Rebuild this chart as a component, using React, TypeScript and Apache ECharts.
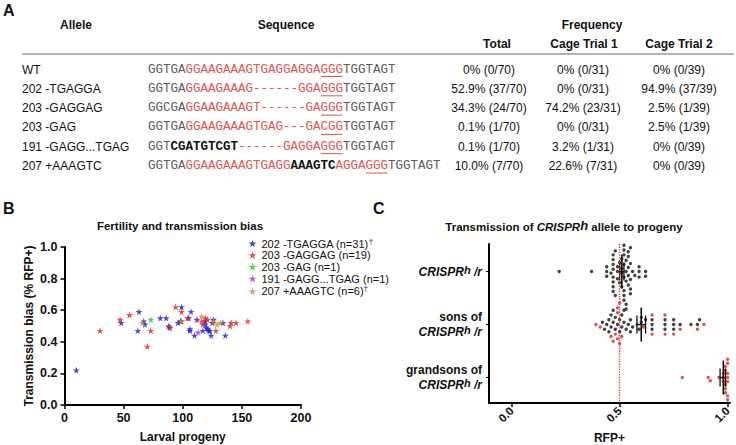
import React, { useEffect, useRef } from "react";
import * as echarts from "echarts";

// ---------- Panel A data ----------
const tableHeaders = ["Allele", "Sequence", "Frequency", "Total", "Cage Trial 1", "Cage Trial 2"];
const alleles = ["WT", "202 -TGAGGA", "203 -GAGGAG", "203 -GAG", "191 -GAGG...TGAG", "207 +AAAGTC"];
// segment style: g = grey, r = red, ru = red underlined (PAM), b = bold black
const sequences: [string, string][][] = [
  [["g", "GGTGA"], ["r", "GGAAGAAAGTGAGGAGGA"], ["ru", "GGG"], ["g", "TGGTAGT"]],
  [["g", "GGTGA"], ["r", "GGAAGAAAG------GGA"], ["ru", "GGG"], ["g", "TGGTAGT"]],
  [["g", "GGCGA"], ["r", "GGAAGAAAGT------GA"], ["ru", "GGG"], ["g", "TGGTAGT"]],
  [["g", "GGTGA"], ["r", "GGAAGAAAGTGAG---GA"], ["ru", "CGG"], ["g", "TGGTAGT"]],
  [["g", "GGT"], ["b", "CGATGTCGT"], ["r", "------GAGGA"], ["ru", "GGG"], ["g", "TGGTAGT"]],
  [["g", "GGTGA"], ["r", "GGAAGAAAGTGAGG"], ["b", "AAAGTC"], ["r", "AGGA"], ["ru", "GGG"], ["g", "TGGTAGT"]],
];
const freqTotal = ["0% (0/70)", "52.9% (37/70)", "34.3% (24/70)", "0.1% (1/70)", "0.1% (1/70)", "10.0% (7/70)"];
const freqTrial1 = ["0% (0/31)", "0% (0/31)", "74.2% (23/31)", "0% (0/31)", "3.2% (1/31)", "22.6% (7/31)"];
const freqTrial2 = ["0% (0/39)", "94.9% (37/39)", "2.5% (1/39)", "2.5% (1/39)", "0% (0/39)", "0% (0/39)"];

// ---------- Panel B data ----------
const seriesNames = ["202 -TGAGGA (n=31)", "203 -GAGGAG (n=19)", "203 -GAG (n=1)", "191 -GAGG...TGAG (n=1)", "207 +AAAGTC (n=6)"];
const seriesDagger = [true, false, false, false, true];
const seriesColors = ["#1c1cd6", "#e52222", "#2cbf2c", "#a236e0", "#d2862f"];
const tgagga: number[][] = [
  [10, 0.22], [48, 0.52], [62, 0.47], [63, 0.59], [67, 0.53], [68, 0.51], [81, 0.55], [86, 0.55], [88, 0.5], [89, 0.49],
  [96, 0.52], [98, 0.53], [99, 0.62], [105, 0.55], [106, 0.48], [106, 0.47], [107, 0.59], [110, 0.44], [112, 0.54], [117, 0.47],
  [119, 0.51], [120, 0.49], [121, 0.48], [122, 0.47], [123, 0.47], [124, 0.44], [125, 0.52], [126, 0.54], [134, 0.52], [136, 0.44],
  [119, 0.53],
];
const gaggag: number[][] = [
  [30, 0.47], [47, 0.54], [55, 0.57], [70, 0.37], [73, 0.47], [89, 0.49], [94, 0.62], [99, 0.59], [99, 0.53], [104, 0.55],
  [116, 0.53], [117, 0.51], [119, 0.55], [121, 0.54], [128, 0.47], [140, 0.5], [141, 0.52], [145, 0.52], [155, 0.53],
];
const gag: number[][] = [[73, 0.54]];
const gaggTgag: number[][] = [[113, 0.46]];
const aaagtc: number[][] = [[66, 0.52], [99, 0.53], [116, 0.56], [126, 0.53], [129, 0.51], [132, 0.52]];

// ---------- Panel C data ----------
const rowLabels = ["CRISPRh/r", "sons of CRISPRh/r", "grandsons of CRISPRh/r"];
const sonsBlack = [0.42, 0.43, 0.44, 0.45, 0.45, 0.46, 0.46, 0.47, 0.47, 0.48, 0.48, 0.49, 0.5, 0.5, 0.51, 0.51, 0.52, 0.52, 0.53, 0.54,
  0.55, 0.55, 0.56, 0.59, 0.6, 0.6, 0.62, 0.65, 0.65, 0.65, 0.71, 0.71, 0.71, 0.75, 0.75, 0.75, 0.78, 0.83, 0.86, 0.87];
const sonsRed = [0.39, 0.41, 0.46, 0.47, 0.48, 0.49, 0.49, 0.49, 0.5, 0.5, 0.51, 0.58, 0.61, 0.65, 0.65, 0.71, 0.71, 0.75, 0.78, 0.86, 0.89];
const grandsonsRed = [0.79, 0.91, 0.92, 0.96, 0.98, 0.98, 0.98, 0.99, 0.99, 0.99, 0.99, 0.99,
  1.0, 1.0, 1.0, 1.0, 1.0, 1.0, 1.0];
const groupMean = [0.51, 0.6, 0.98];
const groupLow = [0.5, 0.58, 0.965];
const groupHigh = [0.52, 0.62, 0.99];
const xTicksC = [0, 0.5, 1.0];

const FONT = '"Liberation Sans", Arial, Helvetica, sans-serif';
const MONO = '"Liberation Mono", "Courier New", monospace';
const STAR = "path://M50 0 L61.17 34.63 L97.55 34.55 L68.07 55.87 L79.39 90.45 L50 69 L20.61 90.45 L31.93 55.87 L2.45 34.55 L38.83 34.63 Z";

// layout constants
const SEQ_X = 148;
const CHAR_W = 7.5;
const ROW_Y0 = 69.5;
const ROW_DY = 19.3;
const PX_X_C = 216; // px per unit on panel C x axis
const PX_Y_C = 53.3; // px per row on panel C

function buildTable(): any[] {
  const els: any[] = [];
  const txt = (x: number, y: number, text: string, font: string, fill = "#111", align = "left") => ({
    type: "text",
    silent: true,
    style: { x, y, text, font, fill, textAlign: align, textVerticalAlign: "middle" },
  });
  const hb = `bold 12px ${FONT}`;
  const nf = `12px ${FONT}`;
  els.push(txt(3, 10, "A", `bold 16px ${FONT}`));
  els.push(txt(76, 25, tableHeaders[0], hb, "#111", "center"));
  els.push(txt(286, 25, tableHeaders[1], hb, "#111", "center"));
  els.push(txt(592, 25, tableHeaders[2], hb, "#111", "center"));
  els.push(txt(497, 44, tableHeaders[3], hb, "#111", "center"));
  els.push(txt(584, 44, tableHeaders[4], hb, "#111", "center"));
  els.push(txt(679, 44, tableHeaders[5], hb, "#111", "center"));
  els.push({ type: "line", silent: true, shape: { x1: 22, y1: 54, x2: 734, y2: 54 }, style: { stroke: "#9a9a9a", lineWidth: 1.5 } });
  alleles.forEach((a, i) => {
    const y = ROW_Y0 + i * ROW_DY;
    els.push(txt(22, y, a, nf));
    let off = 0;
    sequences[i].forEach(([st, s]) => {
      const x = SEQ_X + off * CHAR_W;
      const isBold = st === "b";
      const color = st === "g" ? "#5c5c5c" : st === "b" ? "#111" : "#e15454";
      els.push(txt(x, y, s, `${isBold ? "bold " : ""}12.5px ${MONO}`, color));
      if (st === "ru") {
        els.push({
          type: "line",
          silent: true,
          shape: { x1: x + 0.5, y1: y + 7, x2: x + s.length * CHAR_W - 0.5, y2: y + 7 },
          style: { stroke: "#e15454", lineWidth: 1 },
        });
      }
      off += s.length;
    });
    els.push(txt(489, y, freqTotal[i], nf, "#111", "center"));
    els.push(txt(583, y, freqTrial1[i], nf, "#111", "center"));
    els.push(txt(679, y, freqTrial2[i], nf, "#111", "center"));
  });
  // panel labels and titles
  els.push(txt(3, 208, "B", `bold 16px ${FONT}`));
  els.push(txt(373, 208, "C", `bold 16px ${FONT}`));
  els.push(txt(180, 226, "Fertility and transmission bias", `bold 11.5px ${FONT}`, "#111", "center"));
  els.push({
    type: "text",
    silent: true,
    style: {
      x: 564,
      y: 227,
      text: "{t|Transmission of }{i|CRISPR}{h|h}{t| allele to progeny}",
      textAlign: "center",
      textVerticalAlign: "middle",
      rich: {
        t: { font: `bold 11.5px ${FONT}`, fill: "#111", lineHeight: 16 },
        i: { font: `italic bold 11.5px ${FONT}`, fill: "#111", lineHeight: 16 },
        h: { font: `italic bold 13px ${FONT}`, fill: "#111", lineHeight: 10, verticalAlign: "top" },
      },
    },
  });
  return els;
}

// simple beeswarm placement: offsets perpendicular to value axis (layout only)
function swarm(vals: number[], colors: string[], row: number, D: number) {
  const order = vals.map((_, i) => i).sort((a, b) => vals[a] - vals[b]);
  const placed: { x: number; y: number }[] = [];
  const out: { value: number[]; color: string }[] = [];
  for (const i of order) {
    const x = vals[i] * PX_X_C;
    let k = 0;
    let y = 0;
    for (;;) {
      const c = k === 0 ? 0 : (k % 2 === 1 ? 1 : -1) * Math.ceil(k / 2) * 0.8;
      if (placed.every((p) => (p.x - x) ** 2 + (p.y - c) ** 2 >= D * D)) {
        y = c;
        break;
      }
      k++;
    }
    placed.push({ x, y });
    out.push({ value: [vals[i], row + y / PX_Y_C], color: colors[i] });
  }
  return out;
}

export default function App() {
  const ref = useRef<HTMLDivElement>(null);
  useEffect(() => {
    if (!ref.current) return;
    const chart = echarts.init(ref.current, null, { renderer: "svg" });

    const seriesB = [tgagga, gaggag, gag, gaggTgag, aaagtc];
    const parentVals = seriesB.flat().map((d) => d[1]);
    const rowsC = [
      swarm(parentVals, parentVals.map(() => "#111"), 0, 4.4),
      swarm([...sonsBlack, ...sonsRed], [...sonsBlack.map(() => "#111"), ...sonsRed.map(() => "#e02424")], 1, 4.8),
      swarm(grandsonsRed, grandsonsRed.map(() => "#e02424"), 2, 3.6),
    ].flat();

    const axisLineStyle = { color: "#000", width: 2 };
    const boldLabel = { fontWeight: "bold", fontSize: 12.5, color: "#111", fontFamily: FONT };

    const option: any = {
      animation: false,
      textStyle: { fontFamily: FONT },
      graphic: buildTable(),
      legend: {
        data: seriesNames,
        orient: "vertical",
        left: 248.5,
        top: 237,
        itemWidth: 8,
        itemHeight: 8,
        itemGap: 0.7,
        icon: STAR,
        padding: 0,
        selectedMode: false,
        formatter: (name: string) => {
          const i = seriesNames.indexOf(name);
          return seriesDagger[i] ? `{n|${name}}{s|†}` : `{n|${name}}`;
        },
        textStyle: {
          color: "#111",
          rich: {
            n: { fontSize: 11, lineHeight: 13, color: "#111", fontFamily: FONT },
            s: { fontSize: 8, lineHeight: 8, verticalAlign: "top", color: "#111", fontFamily: FONT },
          },
        },
      },
      grid: [
        { left: 64.5, top: 247, width: 236.5, height: 158 },
        { left: 489, top: 244, width: 240.8, height: 160 },
      ],
      xAxis: [
        {
          gridIndex: 0,
          type: "value",
          min: 0,
          max: 200,
          interval: 50,
          splitLine: { show: false },
          axisLine: { lineStyle: axisLineStyle },
          axisTick: { length: 4, lineStyle: { color: "#000", width: 1.5 } },
          axisLabel: { ...boldLabel, margin: 6 },
          name: "Larval progeny",
          nameLocation: "middle",
          nameGap: 26,
          nameTextStyle: { fontWeight: "bold", fontSize: 12, color: "#111" },
        },
        {
          gridIndex: 1,
          type: "value",
          min: -0.105,
          max: 1.01,
          splitLine: { show: false },
          axisLine: { onZero: false, lineStyle: axisLineStyle },
          axisTick: { length: 4, customValues: xTicksC, lineStyle: { color: "#000", width: 1.5 } },
          axisLabel: { ...boldLabel, fontSize: 11.5, rotate: 45, margin: 6, customValues: xTicksC, formatter: (v: number) => v.toFixed(1) },
          name: "RFP+",
          nameLocation: "middle",
          nameGap: 29,
          nameTextStyle: { fontWeight: "bold", fontSize: 12, color: "#111" },
        },
      ],
      yAxis: [
        {
          gridIndex: 0,
          type: "value",
          min: 0,
          max: 1,
          interval: 0.2,
          splitLine: { show: false },
          axisLine: { show: true, lineStyle: axisLineStyle },
          axisTick: { show: true, length: 4, lineStyle: { color: "#000", width: 1.5 } },
          axisLabel: { ...boldLabel, margin: 7, formatter: (v: number) => v.toFixed(1) },
          name: "Transmission bias (% RFP+)",
          nameLocation: "middle",
          nameGap: 30,
          nameTextStyle: { fontWeight: "bold", fontSize: 12, color: "#111" },
        },
        {
          gridIndex: 1,
          type: "value",
          inverse: true,
          min: -0.52,
          max: 2.48,
          splitLine: { show: false },
          axisLine: { show: true, onZero: false, lineStyle: axisLineStyle },
          axisTick: { show: true, length: 3, customValues: [0, 1, 2], lineStyle: { color: "#000", width: 1 } },
          axisLabel: {
            margin: 7,
            customValues: [0, 1, 2],
            formatter: (v: number) => {
              const r = Math.round(v);
              const base = "{i|CRISPR}{h|h}{i| /r}";
              if (r === 0) return base;
              return `{b|${rowLabels[r].split(" CRISPR")[0]}}\n${base}`;
            },
            rich: {
              b: { fontWeight: "bold", fontSize: 12, lineHeight: 15, color: "#111", fontFamily: FONT },
              i: { fontWeight: "bold", fontStyle: "italic", fontSize: 12, lineHeight: 15, color: "#111", fontFamily: FONT },
              h: { fontWeight: "bold", fontStyle: "italic", fontSize: 11, lineHeight: 9, verticalAlign: "top", color: "#111", fontFamily: FONT },
            },
          },
        },
      ],
      series: [
        ...seriesB.map((d, i) => ({
          name: seriesNames[i],
          type: "scatter",
          xAxisIndex: 0,
          yAxisIndex: 0,
          data: d,
          symbol: STAR,
          symbolSize: 7,
          itemStyle: { color: seriesColors[i] },
          silent: true,
        })),
        {
          type: "scatter",
          xAxisIndex: 1,
          yAxisIndex: 1,
          data: rowsC.map((p) => ({ value: p.value, itemStyle: { color: p.color } })),
          symbol: "circle",
          symbolSize: 3.4,
          silent: true,
          markLine: {
            silent: true,
            symbol: "none",
            label: { show: false },
            lineStyle: { type: "dotted", color: "#ee2a2a", width: 1.3 },
            data: [{ xAxis: 0.5 }],
          },
          z: 3,
        },
        {
          type: "custom",
          xAxisIndex: 1,
          yAxisIndex: 1,
          silent: true,
          z: 4,
          data: groupMean.map((m, i) => [i, m, groupLow[i], groupHigh[i]]),
          encode: { x: [1, 2, 3], y: 0 },
          renderItem: (_p: any, api: any) => {
            const row = api.value(0);
            const pm = api.coord([api.value(1), row]);
            const pl = api.coord([api.value(2), row]);
            const ph = api.coord([api.value(3), row]);
            const st = { stroke: "#111", lineWidth: 1.3 };
            return {
              type: "group",
              children: [
                { type: "line", shape: { x1: pm[0], y1: pm[1] - 17, x2: pm[0], y2: pm[1] + 17 }, style: { ...st, lineWidth: 1.6 } },
                { type: "line", shape: { x1: pl[0], y1: pl[1], x2: ph[0], y2: ph[1] }, style: st },
                { type: "line", shape: { x1: pl[0], y1: pl[1] - 9, x2: pl[0], y2: pl[1] + 9 }, style: st },
                { type: "line", shape: { x1: ph[0], y1: ph[1] - 9, x2: ph[0], y2: ph[1] + 9 }, style: st },
              ],
            };
          },
        },
      ],
    };
    chart.setOption(option);
    return () => chart.dispose();
  }, []);
  return <div ref={ref} style={{ width: 736, height: 445, position: "absolute", left: 0, top: 0 }} />;
}
